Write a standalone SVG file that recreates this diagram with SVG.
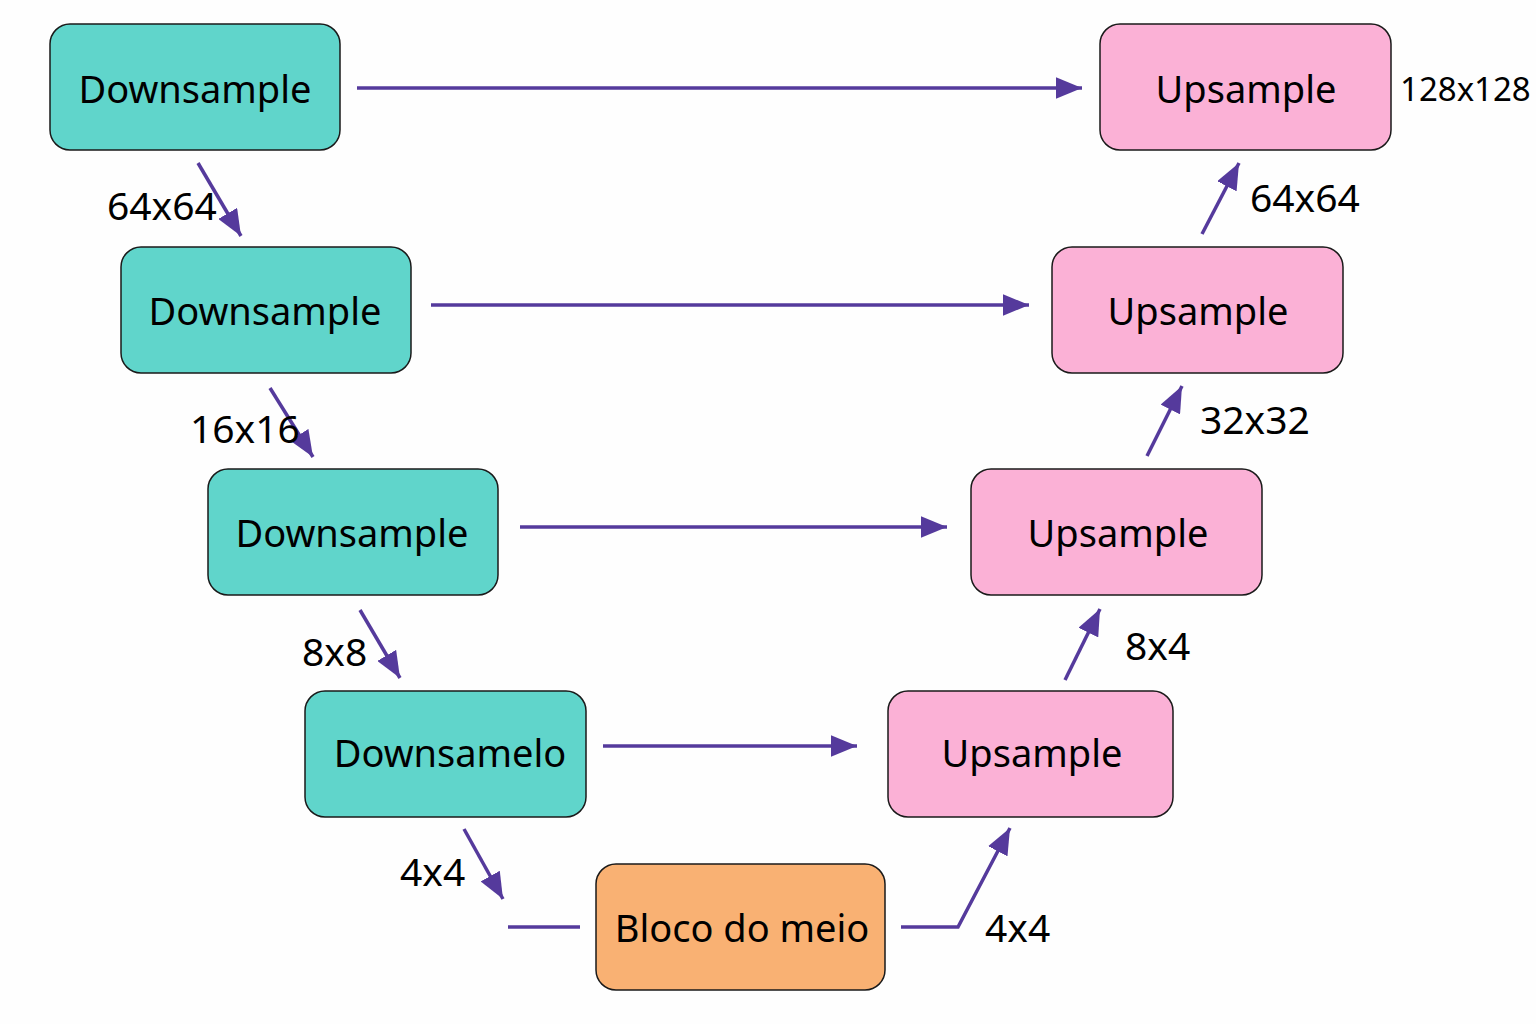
<svg xmlns="http://www.w3.org/2000/svg" width="1536" height="1024" viewBox="0 0 1536 1024">
<defs>
<marker id="ah" viewBox="0 0 12 10" refX="12" refY="5" markerWidth="7.5" markerHeight="6.25" markerUnits="strokeWidth" orient="auto">
<path d="M0,0 L12,5 L0,10 z" fill="#553a9c"/>
</marker>
<style>
.down{fill:#60d5cb;stroke:#1a1a1a;stroke-width:1.5}
.up{fill:#fbb1d6;stroke:#1a1a1a;stroke-width:1.5}
.mid{fill:#f9b173;stroke:#1a1a1a;stroke-width:1.5}
.lbl{font-family:"Noto Sans","Open Sans",sans-serif;font-size:38px;fill:#000;text-anchor:middle}
.dim{font-family:"Noto Sans","Open Sans",sans-serif;font-size:39px;fill:#000}
.c{stroke:#553a9c;stroke-width:3.5;fill:none}
</style>
</defs>
<rect width="1536" height="1024" fill="#fefefe"/>
<g id="connectors">
<line class="c" x1="357" y1="88" x2="1082" y2="88" marker-end="url(#ah)"/>
<line class="c" x1="431" y1="305" x2="1029" y2="305" marker-end="url(#ah)"/>
<line class="c" x1="520" y1="527" x2="947" y2="527" marker-end="url(#ah)"/>
<line class="c" x1="603" y1="746" x2="857" y2="746" marker-end="url(#ah)"/>
<line class="c" x1="198" y1="163" x2="241" y2="236" marker-end="url(#ah)"/>
<line class="c" x1="270" y1="388" x2="313" y2="457" marker-end="url(#ah)"/>
<line class="c" x1="360" y1="610" x2="400" y2="678" marker-end="url(#ah)"/>
<line class="c" x1="464" y1="829" x2="503" y2="899" marker-end="url(#ah)"/>
<line class="c" x1="508" y1="927" x2="580" y2="927"/>
<polyline class="c" points="901,927 958,927 1010,828" marker-end="url(#ah)"/>
<line class="c" x1="1065" y1="680" x2="1100" y2="609" marker-end="url(#ah)"/>
<line class="c" x1="1147" y1="456" x2="1182" y2="386" marker-end="url(#ah)"/>
<line class="c" x1="1202" y1="234" x2="1239" y2="163" marker-end="url(#ah)"/>
</g>
<g id="down1"><rect class="down" x="50" y="24" width="290" height="126" rx="20"/><text class="lbl" x="195" y="103">Downsample</text></g>
<g id="down2"><rect class="down" x="121" y="247" width="290" height="126" rx="20"/><text class="lbl" x="265" y="325">Downsample</text></g>
<g id="down3"><rect class="down" x="208" y="469" width="290" height="126" rx="20"/><text class="lbl" x="352" y="547">Downsample</text></g>
<g id="down4"><rect class="down" x="305" y="691" width="281" height="126" rx="20"/><text class="lbl" x="450" y="767">Downsamelo</text></g>
<g id="mid"><rect class="mid" x="596" y="864" width="289" height="126" rx="20"/><text class="lbl" x="742" y="942">Bloco do meio</text></g>
<g id="up1"><rect class="up" x="1100" y="24" width="291" height="126" rx="20"/><text class="lbl" x="1246" y="103">Upsample</text></g>
<g id="up2"><rect class="up" x="1052" y="247" width="291" height="126" rx="20"/><text class="lbl" x="1198" y="325">Upsample</text></g>
<g id="up3"><rect class="up" x="971" y="469" width="291" height="126" rx="20"/><text class="lbl" x="1118" y="547">Upsample</text></g>
<g id="up4"><rect class="up" x="888" y="691" width="285" height="126" rx="20"/><text class="lbl" x="1032" y="767">Upsample</text></g>
<g id="labels">
<text class="dim" x="107" y="220">64x64</text>
<text class="dim" x="190" y="443">16x16</text>
<text class="dim" x="302" y="666">8x8</text>
<text class="dim" x="400" y="886">4x4</text>
<text class="dim" x="985" y="942">4x4</text>
<text class="dim" x="1125" y="660">8x4</text>
<text class="dim" x="1200" y="434">32x32</text>
<text class="dim" x="1250" y="212">64x64</text>
<text class="dim" x="1400" y="101" style="font-size:33px">128x128</text>
</g>
</svg>
